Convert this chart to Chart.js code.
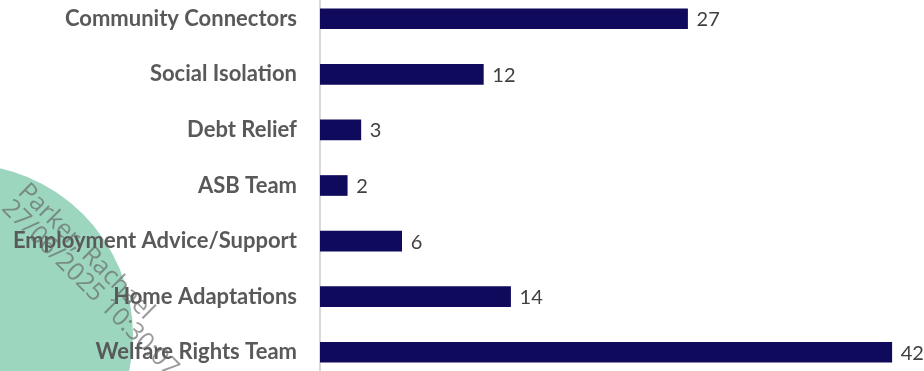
<!DOCTYPE html>
<html>
<head>
<meta charset="utf-8">
<script src="https://cdn.jsdelivr.net/npm/chart.js@4"></script>
<style>
  html, body { margin: 0; padding: 0; background: #fff; overflow: hidden; }
  #wrap { position: absolute; left: 0; top: -9px; width: 924px; height: 389px; }
</style>
</head>
<body>
<div id="wrap"><canvas id="myChart" width="924" height="389"></canvas></div>
<script>
const categories = ["Community Connectors", "Social Isolation", "Debt Relief", "ASB Team",
  "Employment Advice/Support", "Home Adaptations", "Welfare Rights Team"];
const referrals = [27, 12, 3, 2, 6, 14, 42];
const stampLines = ["Parker, Rachael", "27/06/2025 10:30:07"];

// green stamp behind everything
const stampDisc = {
  id: "stampDisc",
  beforeDraw(chart) {
    const ctx = chart.ctx;
    ctx.save();
    ctx.fillStyle = "#9dd6bf";
    ctx.beginPath();
    ctx.arc(-38, 344, 171, 0, Math.PI * 2);
    ctx.fill();
    ctx.restore();
  }
};

// rotated name/date on top
const stampText = {
  id: "stampText",
  afterDraw(chart) {
    const ctx = chart.ctx;
    ctx.save();
    ctx.translate(31, 188);
    ctx.rotate(Math.PI / 4);
    ctx.font = "25px 'Open Sans'";
    ctx.fillStyle = "rgba(100, 100, 100, 0.65)";
    ctx.textBaseline = "top";
    stampLines.forEach((t, i) => ctx.fillText(t, 0, i * 23));
    ctx.restore();
  }
};

// numbers at the end of each bar
const barValues = {
  id: "barValues",
  afterDatasetsDraw(chart) {
    const ctx = chart.ctx;
    const meta = chart.getDatasetMeta(0);
    ctx.save();
    ctx.font = "20px Lato";
    ctx.fillStyle = "#404040";
    ctx.textBaseline = "middle";
    meta.data.forEach((bar, i) => {
      ctx.fillText(referrals[i], bar.x + 9, bar.y + 1);
    });
    ctx.restore();
  }
};

new Chart("myChart", {
  type: "bar",
  data: {
    labels: categories,
    datasets: [{
      data: referrals,
      backgroundColor: "#0f0a5c",
      barThickness: 20
    }]
  },
  options: {
    indexAxis: "y",
    responsive: false,
    animation: false,
    layout: { padding: { top: 0, bottom: 0, left: 0, right: 5 } },
    plugins: {
      legend: { display: false },
      tooltip: { enabled: false }
    },
    scales: {
      x: {
        display: false,
        min: 0,
        max: 44
      },
      y: {
        grid: { display: false },
        border: { color: "#d9d9d9", width: 2 },
        ticks: {
          color: "#595959",
          padding: 15,
          font: { family: "Lato", size: 22, weight: "bold" }
        },
        afterFit(scale) {
          scale.width = 320;
          scale.paddingTop = 0;
          scale.paddingBottom = 0;
        }
      }
    }
  },
  plugins: [stampDisc, stampText, barValues]
});
</script>
</body>
</html>
